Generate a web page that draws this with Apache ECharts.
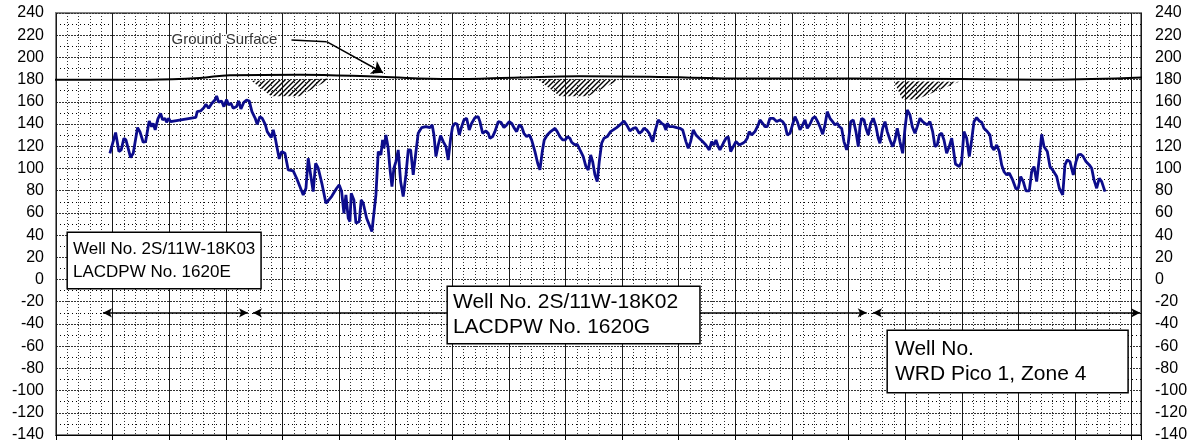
<!DOCTYPE html>
<html lang="en">
<head>
<meta charset="UTF-8">
<title>Hydrograph</title>
<script src="https://cdn.jsdelivr.net/npm/echarts@6/dist/echarts.min.js"></script>
<style>
  html, body { margin: 0; padding: 0; background: #fff; }
  #chart { width: 1201px; height: 448px; }
</style>
</head>
<body>
<div id="chart"></div>
<script>
// x = years from the left edge of the chart, y = water level (ft)
var yearPos = [
  0.952,1.053,1.111,1.152,1.199,1.235,1.318,1.364,1.441,1.482,1.540,1.583,1.646,1.689,1.717,1.752,1.800,1.848,1.883,1.924,1.954,1.989,2.024,
  2.471,2.494,2.554,2.613,2.648,2.696,2.754,2.807,2.837,2.872,2.925,2.966,3.014,3.049,3.090,3.130,3.190,3.226,3.266,3.319,3.367,3.413,3.461,
  3.519,3.554,3.602,3.643,3.696,3.731,3.766,3.801,3.837,3.879,3.943,
  3.985,4.044,4.102,4.190,4.250,4.367,4.415,4.455,4.498,4.543,4.586,4.632,4.662,4.702,4.768,4.868,4.957,5.003,5.045,5.086,5.121,5.162,5.192,
  5.215,5.262,5.298,5.356,5.391,5.427,5.487,5.545,5.580,5.651,5.692,5.739,5.769,5.792,5.828,5.868,5.898,5.934,5.969,6.004,6.045,6.087,6.133,
  6.181,6.222,6.264,6.310,6.358,6.398,6.458,6.534,6.605,6.645,6.676,6.711,6.752,6.794,
  6.840,6.888,6.928,6.971,7.006,7.047,7.087,7.123,7.165,7.206,7.253,7.299,7.342,7.400,7.458,7.488,7.536,7.594,7.635,7.665,7.712,7.753,7.811,
  7.859,7.912,7.960,8.006,8.048,8.089,8.137,8.182,8.225,8.265,8.313,8.359,8.401,8.460,8.508,8.548,8.589,8.624,8.677,8.737,8.813,8.854,8.901,
  8.949,8.995,9.037,9.078,9.108,9.166,9.207,9.255,9.313,9.361,9.401,9.444,9.479,9.520,9.560,9.596,9.638,9.679,9.737,9.797,
  9.843,9.903,9.961,10.032,10.080,10.138,10.196,10.244,10.302,10.345,10.385,10.433,10.479,10.539,10.580,10.638,10.698,10.739,10.774,10.797,
  10.832,10.903,10.963,11.021,11.069,11.127,11.168,11.210,11.256,11.304,11.362,11.422,11.480,11.539,11.581,11.622,11.657,11.698,11.728,
  11.786,11.834,11.874,11.917,11.963,12.010,12.069,12.129,12.170,12.210,12.245,12.288,12.346,12.404,12.434,12.482,12.523,12.563,12.611,
  12.669,12.729,
  12.788,12.835,12.876,12.917,12.965,13.012,13.053,13.094,13.141,13.189,13.229,13.270,13.318,13.365,13.406,13.447,13.494,13.542,13.583,
  13.623,13.671,13.718,13.759,13.800,13.835,13.877,13.918,13.966,13.994,14.037,14.083,14.130,14.171,14.201,14.231,14.272,14.307,14.348,
  14.390,14.436,14.484,14.524,14.554,14.602,14.643,14.683,14.731,14.779,14.819,14.860,14.907,14.955,14.996,15.036,15.084,15.125,15.172,
  15.213,15.261,15.308,15.349,15.390,15.437,15.485,15.526,15.566,15.602,15.644,15.685,15.732,15.778,15.821,15.849,15.888,15.955,15.997,
  16.038,16.086,16.132,16.174,16.215,16.262,16.308,16.351,16.391,16.450,16.497,16.527,16.568,16.616,16.662,16.704,16.745,16.792,16.839,
  16.898,16.957,16.997,17.040,17.086,17.133,17.192,17.234,17.275,17.322,17.368,17.411,17.451,17.510,17.557,17.616,17.676,17.722,17.782,
  17.822,17.863,17.910,17.969,18.017,18.057,18.100,18.145,18.193,18.252,18.294,18.335,18.382,18.428,18.471,18.529
];
var waterLevel = [
  113.7,132.3,115.2,116.7,127.2,125.7,109.8,113.7,136.8,133.2,123.6,124.2,142.8,137.7,140.7,134.7,144.6,149.7,143.7,145.2,141.6,145.2,142.2,
  146.1,151.2,151.8,154.8,157.8,154.2,158.7,161.7,165.3,159.6,160.8,155.7,162.0,157.2,158.7,154.2,155.7,160.8,153.6,159.6,161.7,160.8,151.2,
  145.2,139.8,146.7,145.2,139.8,133.2,131.7,127.8,134.7,125.7,108.6,
  115.2,113.7,98.7,97.8,91.2,76.2,82.2,109.2,94.2,79.2,104.7,100.2,101.7,85.2,68.7,74.7,82.2,85.2,79.2,59.7,76.2,55.2,52.2,
  77.7,71.7,50.7,52.2,71.7,68.7,55.2,47.7,43.2,76.2,115.2,112.2,125.7,118.2,130.2,118.2,100.2,83.7,100.2,106.2,116.7,88.2,74.7,
  94.2,116.7,116.7,94.2,115.2,131.7,136.8,137.7,136.8,139.2,130.2,110.7,121.2,129.6,
  124.2,119.7,107.7,127.2,137.7,140.7,139.8,130.2,137.7,143.7,145.2,134.7,140.7,145.8,146.7,142.2,131.7,133.8,131.7,127.2,128.7,133.2,142.2,
  141.6,136.8,139.2,142.2,140.7,136.8,133.2,139.2,137.7,131.7,128.7,130.2,125.7,115.2,104.7,98.7,115.2,125.7,130.2,133.2,136.2,133.2,128.7,
  125.7,125.7,128.7,127.2,123.6,121.2,121.8,116.7,110.7,101.7,98.7,112.2,106.2,94.2,88.2,106.2,122.7,127.2,128.7,133.2,
  134.7,136.8,139.2,142.8,139.2,133.8,136.2,136.8,131.7,133.2,136.2,134.7,131.7,124.2,133.2,143.7,140.7,139.2,134.7,140.7,
  137.7,137.7,136.8,136.2,134.7,124.2,118.2,124.2,134.7,130.2,127.2,124.2,121.2,116.7,124.2,121.2,125.7,119.7,116.7,
  122.7,127.2,128.7,115.2,119.7,124.2,121.2,122.7,124.2,127.2,133.2,130.2,133.2,139.2,143.7,140.7,137.7,137.7,145.2,
  145.2,142.2,
  143.7,142.2,139.2,130.2,131.7,139.8,146.7,142.2,134.7,139.2,143.7,136.2,139.8,145.2,146.7,142.8,137.7,130.8,139.2,
  151.2,145.2,142.2,139.2,140.7,137.7,136.2,124.2,116.7,122.7,142.2,143.7,133.2,119.7,137.7,145.2,143.7,136.2,130.2,
  140.7,145.2,137.7,127.2,122.7,136.2,142.2,133.2,125.7,119.7,125.7,136.2,124.2,113.7,136.2,152.7,148.2,137.7,131.7,
  137.7,145.2,142.2,140.7,139.2,142.2,133.2,119.7,121.2,130.2,131.7,125.7,113.7,119.7,127.2,118.0,104.0,101.7,106.2,
  133.2,127.2,110.7,125.7,142.2,145.8,142.8,141.6,136.2,133.2,130.2,119.7,116.7,121.2,115.2,103.2,97.2,94.2,95.7,
  89.7,81.6,82.2,92.7,88.2,79.8,79.8,97.2,101.7,88.2,109.2,130.8,119.7,115.2,101.7,97.8,92.7,82.2,76.2,
  103.2,107.7,106.2,94.2,106.2,112.2,112.8,110.7,106.2,103.2,100.2,89.7,82.2,91.2,88.2,79.2
];

var groundPos = [-0.1, 1.66, 2.54, 3.07, 4.31, 5.72, 6.96, 8.19, 9.25, 10.49, 12.26, 14.02, 15.96, 17.56, 19.25];
var groundLevel = [180, 180, 181.5, 184, 184.5, 182.5, 180.5, 182, 183, 182.5, 181, 181, 180.5, 180, 182];

// record spans of the three wells, drawn as double arrows at one level
var spanFrom = [0.83, 3.48, 14.43];
var spanTo = [3.39, 14.32, 19.15];
var spanLevel = -30;

// hatched ground patches, polygons in (year, level)
var hatchAreas = [
  [[3.45, 179], [4.86, 181], [4.30, 165], [3.80, 165]],
  [[8.50, 180.5], [9.95, 180], [9.40, 165], [8.90, 165]],
  [[14.80, 178.5], [15.95, 178], [15.20, 162], [14.95, 162]]
];

var yMin = -140, yMax = 240, yStep = 20;
var xMin = 0, xMax = 19.165;

var wellNotes = [
  { x: 0.211, y: 41.9, size: 17, lh: 23, pad: [5, 5, 4, 5], text: 'Well No. 2S/11W-18K03\nLACDPW No. 1620E' },
  { x: 6.923, y: -6.7, size: 21, lh: 25, pad: [3, 21, 3, 5], text: 'Well No. 2S/11W-18K02\nLACDPW No. 1620G' },
  { x: 14.695, y: -46.4, size: 21, lh: 25, pad: [6, 41, 5, 7], text: 'Well No.\nWRD Pico 1, Zone 4' }
];

var font = '"Liberation Sans", Arial, sans-serif';

var hatchCanvas = document.createElement('canvas');
hatchCanvas.width = 5;
hatchCanvas.height = 5;
var hctx = hatchCanvas.getContext('2d');
hctx.strokeStyle = '#000';
hctx.lineWidth = 1.4;
hctx.beginPath();
hctx.moveTo(-1, 6); hctx.lineTo(6, -1);
hctx.moveTo(-1, 1); hctx.lineTo(1, -1);
hctx.moveTo(4, 6); hctx.lineTo(6, 4);
hctx.stroke();

var chart = echarts.init(document.getElementById('chart'));

var levelData = yearPos.map(function (t, i) { return [t, waterLevel[i]]; });
var groundData = groundPos.map(function (t, i) { return [t, groundLevel[i]]; });

var spanLines = spanFrom.map(function (f, i) {
  return [{ coord: [f, spanLevel] }, { coord: [spanTo[i], spanLevel] }];
});

var option = {
  animation: false,
  backgroundColor: '#fff',
  grid: {
    left: 56, right: 60, top: 13, bottom: 13,
    show: true, borderColor: '#808080', borderWidth: 2
  },
  xAxis: {
    type: 'value', min: xMin, max: xMax, interval: 1,
    axisLabel: { show: false },
    axisLine: { show: true, onZero: false, lineStyle: { color: '#000', width: 1 } },
    axisTick: { show: true, length: 5, inside: false, lineStyle: { color: '#000' } },
    splitLine: { show: true, lineStyle: { color: '#1a1a1a', width: 1, type: 'solid' } },
    minorTick: { show: false, splitNumber: 5 },
    minorSplitLine: { show: true, lineStyle: { color: '#333', width: 1, type: [1, 2] } }
  },
  yAxis: [{
    type: 'value', min: yMin, max: yMax, interval: yStep, position: 'left',
    axisLine: { show: false }, axisTick: { show: false },
    axisLabel: { color: '#000', fontSize: 16, fontFamily: font, margin: 12 },
    splitLine: { show: true, lineStyle: { color: '#333', width: 1, type: [2, 1] } },
    minorTick: { show: false, splitNumber: 2 },
    minorSplitLine: { show: true, lineStyle: { color: '#000', width: 1, type: [1, 3] } }
  }, {
    type: 'value', min: yMin, max: yMax, interval: yStep, position: 'right',
    axisLine: { show: false }, axisTick: { show: false },
    axisLabel: { color: '#000', fontSize: 16, fontFamily: font, margin: 14 },
    splitLine: { show: false }
  }],
  series: [{
    name: 'hatch',
    type: 'custom',
    data: hatchAreas.map(function (a) { return a[0]; }),
    renderItem: function (params, api) {
      var pts = hatchAreas[params.dataIndex].map(function (p) { return api.coord(p); });
      return {
        type: 'polygon',
        shape: { points: pts },
        style: { fill: { image: hatchCanvas, repeat: 'repeat' }, stroke: null }
      };
    },
    silent: true, z: 3
  }, {
    name: 'Ground Surface',
    type: 'line',
    data: groundData,
    smooth: 0.4,
    symbol: 'none',
    clip: false,
    lineStyle: { color: '#000', width: 2 },
    z: 4,
    markLine: {
      silent: true,
      symbol: ['none', 'none'],
      symbolSize: 11,
      label: { show: false },
      lineStyle: { color: '#000', width: 1.5, type: 'solid' },
      data: [
        [{ coord: [4.16, 215.7] }, { coord: [4.78, 214.2] }],
        [{ coord: [4.78, 214.2] }, { coord: [5.775, 186.2], symbol: 'arrow' }]
      ]
    }
  }, {
    name: 'Water Level',
    type: 'line',
    data: levelData,
    symbol: 'none',
    lineStyle: { color: '#0c0c8c', width: 2.8 },
    z: 5
  }, {
    name: 'Spans',
    type: 'line',
    data: [],
    z: 6,
    markLine: {
      silent: true,
      symbol: ['arrow', 'arrow'],
      symbolSize: [7, 9],
      label: { show: false },
      lineStyle: { color: '#000', width: 1.5, type: 'solid' },
      data: spanLines
    }
  }]
};

chart.setOption(option);

function placeNotes() {
  var els = wellNotes.map(function (n) {
    var p = chart.convertToPixel({ gridIndex: 0 }, [n.x, n.y]);
    return {
      type: 'text', x: p[0], y: p[1], z: 100,
      style: {
        text: n.text, font: n.size + 'px ' + font, fill: '#000',
        lineHeight: n.lh, backgroundColor: '#fff',
        borderColor: '#000', borderWidth: 1.5, padding: n.pad,
        verticalAlign: 'top', align: 'left'
      }
    };
  });
  var g = chart.convertToPixel({ gridIndex: 0 }, [2.04, 215.6]);
  els.push({
    type: 'text', x: g[0], y: g[1], z: 100,
    style: {
      text: 'Ground Surface', font: '15px ' + font, fill: '#333',
      stroke: '#fff', lineWidth: 3, verticalAlign: 'middle', align: 'left'
    }
  });
  chart.setOption({ graphic: els });
}
placeNotes();
</script>
</body>
</html>
